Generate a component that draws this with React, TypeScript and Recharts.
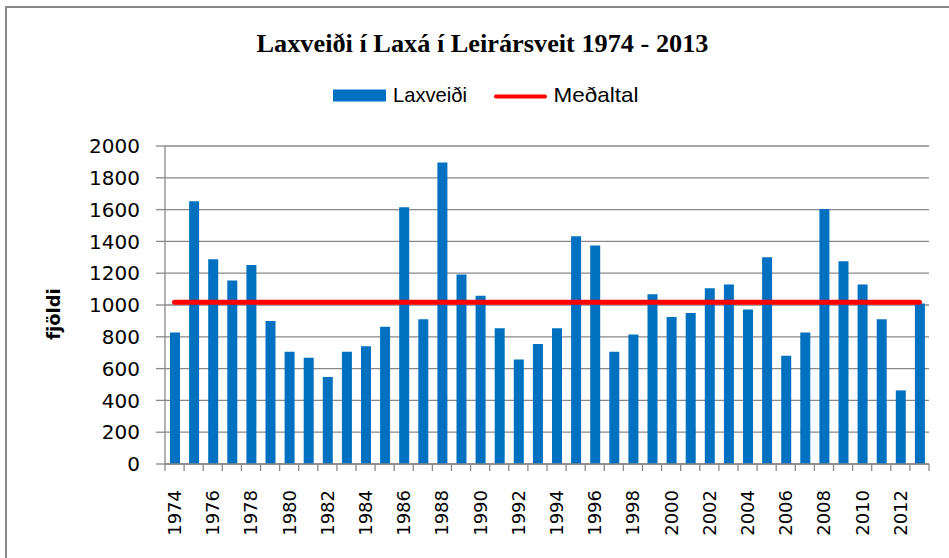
import React from "react";
import { ComposedChart, Bar, Line, XAxis, YAxis, CartesianGrid } from "recharts";

const years = [
  "1974", "1975", "1976", "1977", "1978", "1979", "1980", "1981", "1982", "1983",
  "1984", "1985", "1986", "1987", "1988", "1989", "1990", "1991", "1992", "1993",
  "1994", "1995", "1996", "1997", "1998", "1999", "2000", "2001", "2002", "2003",
  "2004", "2005", "2006", "2007", "2008", "2009", "2010", "2011", "2012", "2013",
];

const catchValues = [
  827, 1652, 1288, 1154, 1252, 900, 706, 668, 547, 706,
  741, 863, 1615, 911, 1896, 1192, 1058, 853, 658, 754,
  853, 1433, 1374, 706, 815, 1068, 924, 949, 1106, 1129,
  972, 1301, 681, 827, 1604, 1275, 1129, 911, 463, 1010,
];

const meanValue = 1017;

const yTicks = [0, 200, 400, 600, 800, 1000, 1200, 1400, 1600, 1800, 2000];

const data = years.map((year, i) => ({
  year,
  laxveidi: catchValues[i],
  medaltal: meanValue,
}));

const W = 949;
const H = 558;
const PLOT_LEFT = 165;
const PLOT_RIGHT = 929;
const BAND = (PLOT_RIGHT - PLOT_LEFT) / years.length;
const GRAY = "#888888";
const BLUE = "#0070C0";

function XTick(props: any) {
  const { x, y, index, payload } = props;
  const half = BAND / 2;
  return (
    <g>
      <line x1={x - half} y1={y} x2={x - half} y2={y + 7} stroke={GRAY} strokeWidth={1.3} />
      {index === years.length - 1 && (
        <line x1={x + half} y1={y} x2={x + half} y2={y + 7} stroke={GRAY} strokeWidth={1.3} />
      )}
      {index % 2 === 0 && (
        <text
          transform={`translate(${x + 6.5},${y + 26}) rotate(-90)`}
          textAnchor="end"
          fontFamily="DejaVu Sans"
          fontSize={18}
          fill="#000"
        >
          {payload.value}
        </text>
      )}
    </g>
  );
}

export default function App() {
  return (
    <div
      style={{
        position: "absolute",
        left: 0,
        top: 0,
        width: W,
        height: H,
        overflow: "hidden",
        background: "#fff",
      }}
    >
      <div
        style={{
          position: "absolute",
          left: 5,
          top: 6,
          width: 1000,
          height: 1000,
          border: `2px solid ${GRAY}`,
          boxSizing: "border-box",
        }}
      />
      <div style={{ position: "absolute", left: 0, top: 0 }}>
        <ComposedChart
          width={W}
          height={H}
          data={data}
          margin={{ top: 146, right: W - PLOT_RIGHT, bottom: 34, left: 85 }}
        >
          <CartesianGrid vertical={false} stroke={GRAY} strokeWidth={1.3} />
          <XAxis
            dataKey="year"
            interval={0}
            height={60}
            tickLine={false}
            tickSize={0}
            tickMargin={0}
            stroke={GRAY}
            strokeWidth={1.3}
            tick={<XTick />}
          />
          <YAxis
            domain={[0, 2000]}
            ticks={yTicks}
            interval={0}
            width={80}
            tickSize={9}
            tickMargin={16}
            stroke={GRAY}
            strokeWidth={1.3}
            tick={{ fontFamily: "DejaVu Sans", fontSize: 20, fill: "#000" }}
          />
          <Bar dataKey="laxveidi" fill={BLUE} barSize={10} isAnimationActive={false} />
          <Line
            dataKey="medaltal"
            type="linear"
            stroke="#FF0000"
            strokeWidth={5}
            strokeLinecap="round"
            dot={false}
            activeDot={false}
            isAnimationActive={false}
          />
        </ComposedChart>
      </div>
      <svg
        width={W}
        height={H}
        style={{ position: "absolute", left: 0, top: 0, pointerEvents: "none" }}
      >
        <text
          x={482.5}
          y={51.7}
          textAnchor="middle"
          fontFamily="Liberation Serif"
          fontWeight="bold"
          fontSize={26}
          textLength={452}
          lengthAdjust="spacingAndGlyphs"
          fill="#000"
        >
          Laxveiði í Laxá í Leirársveit 1974 - 2013
        </text>
        <rect x={333} y={89.5} width={53} height={12} fill={BLUE} />
        <text
          x={393}
          y={101.7}
          fontFamily="Liberation Sans"
          fontSize={21}
          textLength={74}
          lengthAdjust="spacingAndGlyphs"
          fill="#000"
        >
          Laxveiði
        </text>
        <line x1={496} y1={96.5} x2={545} y2={96.5} stroke="#FF0000" strokeWidth={4} strokeLinecap="round" />
        <text
          x={553.5}
          y={101.7}
          fontFamily="Liberation Sans"
          fontSize={21}
          textLength={85}
          lengthAdjust="spacingAndGlyphs"
          fill="#000"
        >
          Meðaltal
        </text>
        <text
          transform="translate(60,314) rotate(-90)"
          textAnchor="middle"
          fontFamily="DejaVu Sans"
          fontWeight="bold"
          fontSize={18}
          fill="#000"
        >
          fjöldi
        </text>
      </svg>
    </div>
  );
}
